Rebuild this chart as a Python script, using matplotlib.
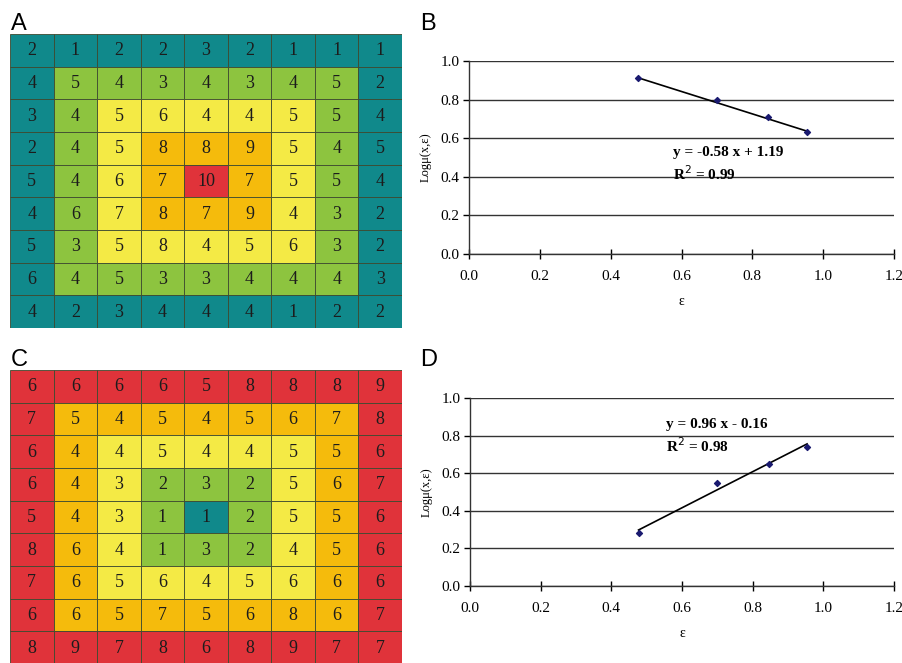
import numpy as np
import matplotlib
matplotlib.use('Agg')
import matplotlib.pyplot as plt
from matplotlib.patches import Rectangle

# valores das grelhas (linhas de cima para baixo)
grid_a = [
    [2, 1, 2, 2, 3, 2, 1, 1, 1],
    [4, 5, 4, 3, 4, 3, 4, 5, 2],
    [3, 4, 5, 6, 4, 4, 5, 5, 4],
    [2, 4, 5, 8, 8, 9, 5, 4, 5],
    [5, 4, 6, 7, 10, 7, 5, 5, 4],
    [4, 6, 7, 8, 7, 9, 4, 3, 2],
    [5, 3, 5, 8, 4, 5, 6, 3, 2],
    [6, 4, 5, 3, 3, 4, 4, 4, 3],
    [4, 2, 3, 4, 4, 4, 1, 2, 2],
]
grid_c = [
    [6, 6, 6, 6, 5, 8, 8, 8, 9],
    [7, 5, 4, 5, 4, 5, 6, 7, 8],
    [6, 4, 4, 5, 4, 4, 5, 5, 6],
    [6, 4, 3, 2, 3, 2, 5, 6, 7],
    [5, 4, 3, 1, 1, 2, 5, 5, 6],
    [8, 6, 4, 1, 3, 2, 4, 5, 6],
    [7, 6, 5, 6, 4, 5, 6, 6, 6],
    [6, 6, 5, 7, 5, 6, 8, 6, 7],
    [8, 9, 7, 8, 6, 8, 9, 7, 7],
]

# cores por anel (de fora para dentro)
cores_a = ['#10898b', '#8dc43f', '#f4ea45', '#f5bb0c', '#e0333a']
cores_c = ['#e0333a', '#f5bb0c', '#f4ea45', '#8dc43f', '#10898b']

# dados dos gráficos de regressão
eps = [0.477, 0.699, 0.845, 0.954]
log_mu_b = [0.91, 0.80, 0.71, 0.63]
log_mu_d = [0.28, 0.55, 0.65, 0.74]
fit_b = (-0.58, 1.19)
fit_d = (0.96, -0.16)
eq_b = ['y = -0.58 x + 1.19', 'R$^2$ = 0.99']
eq_d = ['y = 0.96 x - 0.16', 'R$^2$ = 0.98']

W, H = 903, 663
fig = plt.figure(figsize=(W / 100, H / 100), dpi=100)


def box(x0, y0, x1, y1):
    return [x0 / W, 1 - y1 / H, (x1 - x0) / W, (y1 - y0) / H]


def desenhar_grelha(ax, valores, cores):
    n = len(valores)
    for i in range(n):
        for j in range(n):
            anel = min(i, j, n - 1 - i, n - 1 - j)
            ax.add_patch(Rectangle((j, i), 1, 1, facecolor=cores[anel],
                                   edgecolor='#3d4a30', linewidth=0.6))
            ax.text(j + 0.5, i + 0.52, str(valores[i][j]), ha='center', va='center',
                    fontsize=13, family='Liberation Serif', color='#1c1c1c')
    ax.set_xlim(0, n)
    ax.set_ylim(n, 0)
    ax.axis('off')


def desenhar_regressao(ax, x, y, fit, eq, eq_pos):
    ax.scatter(x, y, marker='D', s=9, color='#1a1a70', zorder=3)
    xs = np.array([x[0], x[-1]])
    ax.plot(xs, fit[0] * xs + fit[1], color='black', linewidth=1.2, zorder=2)
    ax.set_xlim(0, 1.2)
    ax.set_ylim(0, 1.0)
    ax.set_xticks(np.arange(0, 1.21, 0.2))
    ax.set_yticks(np.arange(0, 1.01, 0.2))
    ax.set_xticklabels([f'{v:.1f}' for v in np.arange(0, 1.21, 0.2)])
    ax.set_yticklabels([f'{v:.1f}' for v in np.arange(0, 1.01, 0.2)])
    for lab in ax.get_xticklabels() + ax.get_yticklabels():
        lab.set_family('Liberation Serif')
        lab.set_fontsize(11)
    ax.tick_params(axis='x', direction='inout', length=7, width=1, pad=8)
    ax.tick_params(axis='y', direction='out', length=4, width=1, pad=3)
    ax.yaxis.grid(True, color='#333333', linewidth=1)
    ax.set_axisbelow(True)
    for s in ['top', 'right']:
        ax.spines[s].set_visible(False)
    for s in ['left', 'bottom']:
        ax.spines[s].set_linewidth(1)
        ax.spines[s].set_color('#333333')
    ax.set_xlabel('ε', family='Liberation Serif', fontsize=10, labelpad=9)
    ax.set_ylabel('Logμ(x,ε)', family='Liberation Serif', fontsize=9, labelpad=6)
    ax.text(eq_pos[0], eq_pos[1], eq[0], fontsize=11, fontweight='bold',
            family='Liberation Serif')
    ax.text(eq_pos[0], eq_pos[1] - 0.125, eq[1], fontsize=11, fontweight='bold',
            family='Liberation Serif')


ax_a = fig.add_axes(box(10, 34, 402, 328))
desenhar_grelha(ax_a, grid_a, cores_a)
ax_c = fig.add_axes(box(10, 370, 402, 664))
desenhar_grelha(ax_c, grid_c, cores_c)

ax_b = fig.add_axes(box(469, 61, 894, 254))
desenhar_regressao(ax_b, eps, log_mu_b, fit_b, eq_b, (0.575, 0.51))
ax_d = fig.add_axes(box(470, 398, 894, 586))
desenhar_regressao(ax_d, eps, log_mu_d, fit_d, eq_d, (0.555, 0.84))

# letras dos painéis
for letra, (px, py) in zip('ABCD', [(11, 30), (420, 30), (11, 366), (420, 366)]):
    fig.text(px / W, 1 - py / H, letra, fontsize=17, family='Liberation Sans',
             ha='left', va='baseline')

fig.savefig('out.png', dpi=100)
